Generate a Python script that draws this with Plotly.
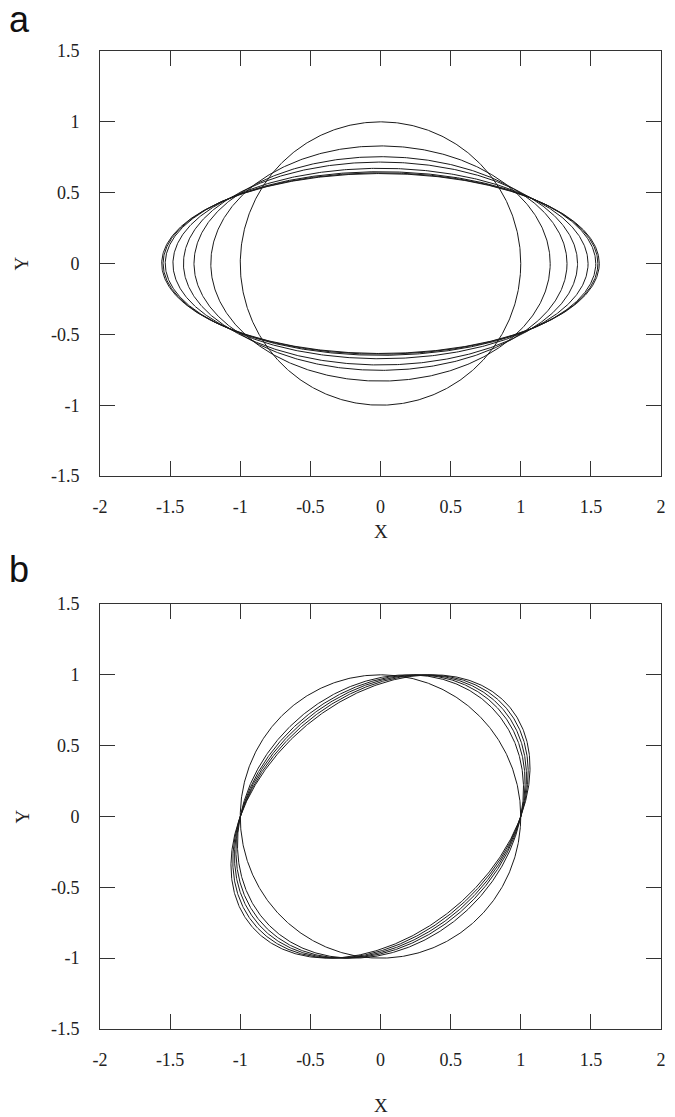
import numpy as np
import plotly.graph_objects as go

# Panel a: stretched shapes (semi-axis along X, semi-axis along Y)
A_SEMI_X = [1.0, 1.21, 1.33, 1.405, 1.48, 1.535, 1.55, 1.56]
A_SEMI_Y = [1.0, 0.83, 0.754, 0.716, 0.672, 0.648, 0.64, 0.635]

# Panel b: sheared circles, shear offset of the top point
B_SHEAR = [0.0, 0.2, 0.25, 0.29, 0.33, 0.37]

X_TICKS = [-2, -1.5, -1, -0.5, 0, 0.5, 1, 1.5, 2]
X_TICK_TEXT = ["-2", "-1.5", "-1", "-0.5", "0", "0.5", "1", "1.5", "2"]
Y_TICKS = [-1.5, -1, -0.5, 0, 0.5, 1, 1.5]
Y_TICK_TEXT = ["-1.5", "-1", "-0.5", "0", "0.5", "1", "1.5"]

LINE = "#1a1a1a"
AXIS = "#333333"
SERIF = "Liberation Serif, Times New Roman, serif"
SANS = "Liberation Sans, Arial, sans-serif"

t = np.linspace(0, 2 * np.pi, 721)

fig = go.Figure()

for ax, ay in zip(A_SEMI_X, A_SEMI_Y):
    fig.add_trace(go.Scatter(
        x=ax * np.cos(t), y=ay * np.sin(t), mode="lines",
        line=dict(color=LINE, width=1), xaxis="x", yaxis="y",
        hoverinfo="skip", showlegend=False))

for k in B_SHEAR:
    fig.add_trace(go.Scatter(
        x=np.cos(t) + k * np.sin(t), y=np.sin(t), mode="lines",
        line=dict(color=LINE, width=1), xaxis="x2", yaxis="y2",
        hoverinfo="skip", showlegend=False))

xaxis_style = dict(
    range=[-2, 2], tickmode="array", tickvals=X_TICKS, ticktext=X_TICK_TEXT,
    ticks="inside", ticklen=15, tickwidth=1, tickcolor=AXIS,
    showline=True, linecolor=AXIS, linewidth=1, mirror="ticks",
    showgrid=False, zeroline=False, ticklabelstandoff=14,
    tickfont=dict(family=SERIF, size=18, color="#222"))
yaxis_style = dict(
    range=[-1.5, 1.5], tickmode="array", tickvals=Y_TICKS, ticktext=Y_TICK_TEXT,
    ticks="inside", ticklen=15, tickwidth=1, tickcolor=AXIS,
    showline=True, linecolor=AXIS, linewidth=1, mirror="ticks",
    showgrid=False, zeroline=False, ticklabelstandoff=16,
    tickfont=dict(family=SERIF, size=18, color="#222"))

fig.update_layout(
    width=675, height=1117,
    margin=dict(l=100, r=9, t=51, b=88),
    paper_bgcolor="white", plot_bgcolor="white",
    xaxis=dict(**xaxis_style, domain=[0, 1], anchor="y"),
    yaxis=dict(**yaxis_style, domain=[0.5654, 1], anchor="x"),
    xaxis2=dict(**xaxis_style, domain=[0, 1], anchor="y2"),
    yaxis2=dict(**yaxis_style, domain=[0, 0.4346], anchor="x2"),
)

notes = [
    # panel letters
    dict(text="a", x=0, y=1, xshift=-81, yshift=32, font=dict(family=SANS, size=36, color="#111")),
    dict(text="b", x=0, y=0.4346, xshift=-81, yshift=34, font=dict(family=SANS, size=36, color="#111")),
    # axis titles
    dict(text="X", x=0.5, y=0.5654, yshift=-55, font=dict(family=SERIF, size=19, color="#222")),
    dict(text="X", x=0.5, y=0, yshift=-76, font=dict(family=SERIF, size=19, color="#222")),
    dict(text="Y", x=0, y=0.7827, xshift=-78, textangle=-90, font=dict(family=SERIF, size=19, color="#222")),
    dict(text="Y", x=0, y=0.2173, xshift=-78, textangle=-90, font=dict(family=SERIF, size=19, color="#222")),
]
for n in notes:
    fig.add_annotation(xref="paper", yref="paper", showarrow=False,
                       xanchor="center", yanchor="middle", **n)

fig.write_html("out.html")
